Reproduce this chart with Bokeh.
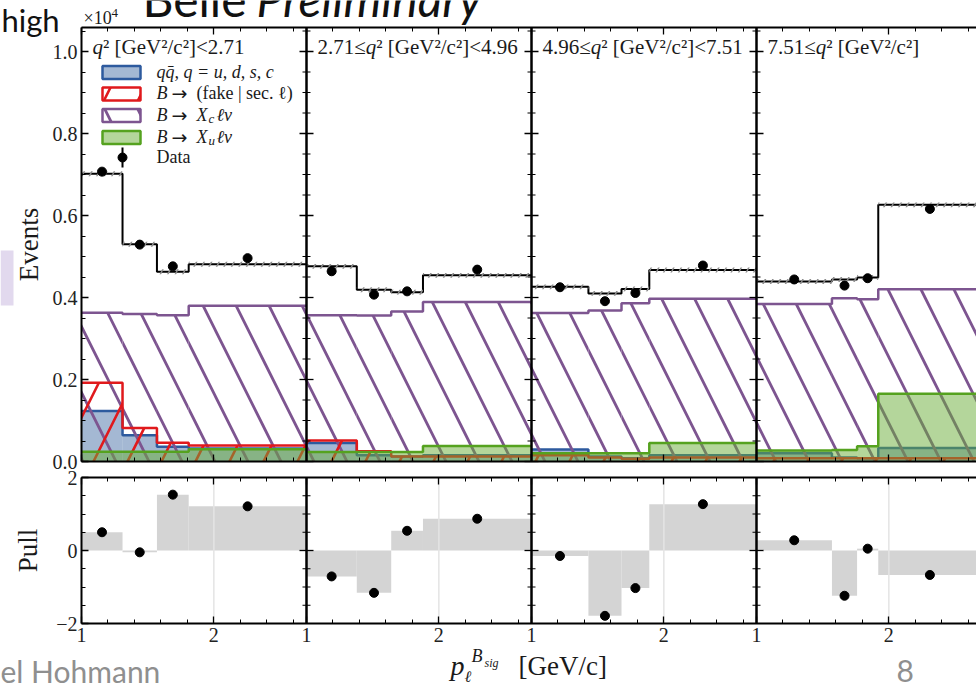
import numpy as np
from bokeh.plotting import figure
from bokeh.models import Range1d, LinearAxis, FixedTicker, PrintfTickFormatter, Label
from bokeh.embed import file_html
from bokeh.resources import INLINE

# q^2 bin boundaries [GeV^2/c^2], one panel per q^2 bin
q2_edges = [2.71, 4.96, 7.51]

# lepton momentum binning inside each q^2 bin [GeV/c]
p_edges = [
    [1.00, 1.31, 1.57, 1.81, 2.70],
    [1.00, 1.38, 1.64, 1.88, 2.70],
    [1.00, 1.43, 1.68, 1.89, 2.70],
    [1.00, 1.57, 1.76, 1.92, 2.70],
]

# fitted template yields per bin [x 10^4 events]
yield_xc = [
    [0.363, 0.360, 0.357, 0.380],
    [0.357, 0.356, 0.366, 0.389],
    [0.362, 0.368, 0.386, 0.397],
    [0.384, 0.398, 0.396, 0.420],
]
yield_fake = [
    [0.192, 0.082, 0.046, 0.039],
    [0.051, 0.025, 0.012, 0.012],
    [0.015, 0.010, 0.007, 0.010],
    [0.008, 0.008, 0.008, 0.008],
]
yield_qq = [
    [0.123, 0.064, 0.036, 0.032],
    [0.045, 0.015, 0.012, 0.015],
    [0.029, 0.012, 0.008, 0.015],
    [0.020, 0.010, 0.008, 0.033],
]
yield_xu = [
    [0.024, 0.024, 0.024, 0.030],
    [0.023, 0.023, 0.023, 0.038],
    [0.020, 0.020, 0.020, 0.045],
    [0.027, 0.028, 0.037, 0.165],
]

# observed events per bin [x 10^4]
data_yield = [
    [0.707, 0.529, 0.476, 0.496],
    [0.464, 0.407, 0.415, 0.468],
    [0.425, 0.391, 0.411, 0.478],
    [0.444, 0.429, 0.447, 0.616],
]

# (data - fit) / sigma per bin
pull = [
    [0.50, -0.05, 1.53, 1.21],
    [-0.71, -1.16, 0.54, 0.87],
    [-0.15, -1.79, -1.03, 1.27],
    [0.28, -1.24, 0.05, -0.67],
]

# ---------------------------------------------------------------- geometry
SERIF = "Liberation Serif"
SANS = "Lato"
W, H = 976, 686
PANEL_SPAN = 1.7                      # each panel shows p in [1.0, 2.7]
X_SCALE = 225 / PANEL_SPAN            # px per GeV/c
UP_BOT, UP_SCALE = 461, 410.0         # upper row: y=0 line, px per 10^4
LO_MID, LO_SCALE = 550, 36.5          # pull row: y=0 line, px per unit
UP_YMAX = (UP_BOT - 27) / UP_SCALE
X_END = 1 + (W - 81) / X_SCALE

C_XC = "#7d5590"
C_FAKE = "#e0191c"
C_QQ_EDGE, C_QQ_FILL = "#2d5a9e", "#4a71a8"
C_XU_EDGE, C_XU_FILL = "#55a21f", "#6aae38"
INK = "#1a1a1a"


def dx(px):
    return 1 + (px - 81) / X_SCALE


def uy(py):
    return (UP_BOT - py) / UP_SCALE


def ly(py):
    return (LO_MID - py) / LO_SCALE


ROMAN = {' ': 250, '(': 333, ')': 333, '[': 333, ']': 333, '.': 250, ',': 250,
         '/': 278, '|': 200, '<': 564, '=': 564, '²': 300, '≤': 549,
         '×': 564, 'G': 722, 'V': 722, 'a': 444, 'c': 444, 'e': 444, 'f': 333,
         'k': 500, 's': 389, 't': 278, 'i': 278, 'l': 278, 'ℓ': 417}
ITALIC = {' ': 250, ',': 250, '=': 675, 'q': 500, '\u0304': 0}


def text_width(s, size, italic):
    table = ITALIC if italic else ROMAN
    return sum(table.get(ch, 500) for ch in s) * size / 1000.0


p = figure(width=W, height=H, x_range=Range1d(dx(0), dx(W)),
           y_range=Range1d(uy(H), uy(0)), x_axis_type=None, y_axis_type=None,
           output_backend="svg", toolbar_location=None,
           min_border_left=0, min_border_right=0, min_border_top=0,
           min_border_bottom=0)
p.extra_y_ranges = {"pull": Range1d(ly(H), ly(0))}
p.outline_line_color = None
p.background_fill_color = "white"
p.border_fill_color = "white"


def label(text, px, py, size, italic=False, font=SERIF, color=INK):
    """Text placed by its left edge and vertical middle, in page pixels."""
    p.add_layout(Label(x=dx(px), y=uy(py), text=text, text_font=font,
                       text_font_size=f"{size}px",
                       text_font_style="italic" if italic else "normal",
                       text_color=color, text_align="left",
                       text_baseline="middle"))


def label_run(segments, px, py, font=SERIF, color=INK):
    x = px
    for text, size, italic in segments:
        label(text, x, py, size, italic, font, color)
        x += text_width(text, size, italic)


def axis(side, major, minor, loc, bounds, labels=True, overrides=None,
         y_range_name="default"):
    ax = LinearAxis(fixed_location=loc, bounds=bounds, y_range_name=y_range_name)
    ax.ticker = FixedTicker(ticks=major, minor_ticks=minor)
    ax.axis_line_width = 2
    ax.axis_line_color = "black"
    ax.major_tick_in, ax.major_tick_out = 7, 0
    ax.minor_tick_in, ax.minor_tick_out = 4, 0
    ax.major_tick_line_width = 1.3
    ax.minor_tick_line_width = 1
    ax.major_tick_line_color = "black"
    ax.minor_tick_line_color = "black"
    ax.major_label_text_font = SERIF
    ax.major_label_text_font_size = "20px"
    ax.major_label_standoff = 4
    ax.major_label_text_color = "#222222" if labels else None
    if overrides:
        ax.major_label_overrides = overrides
    p.add_layout(ax, side)
    return ax


# x ticks repeated in every panel, labelled with the momentum value
x_major, x_minor, x_over = [], [], {}
for k in range(4):
    off = k * PANEL_SPAN
    for v in (1.0, 2.0):
        t = round(v + off, 6)
        x_major.append(t)
        x_over[t] = f"{v:.0f}"
    for v in (1.2, 1.4, 1.6, 1.8, 2.2, 2.4, 2.6):
        t = round(v + off, 6)
        if t < X_END:
            x_minor.append(t)
separators = [round(1 + k * PANEL_SPAN, 6) for k in (1, 2, 3)]
pull_grid = [round(2 + k * PANEL_SPAN, 6) for k in range(4)]

up_major = [round(0.2 * i, 6) for i in range(6)]
up_minor = [round(0.05 * i, 6) for i in range(22) if i % 4]
lo_major = [-2.0, 0.0, 2.0]
lo_minor = [-1.5, -1.0, -0.5, 0.5, 1.0, 1.5]

# ---------------------------------------------------------------- axes
axis("below", x_major, x_minor, 0.0, (1, X_END), labels=False)
axis("above", x_major, x_minor, UP_YMAX, (1, X_END), labels=False)
ay = axis("left", up_major, up_minor, 1.0, (0, UP_YMAX))
ay.formatter = PrintfTickFormatter(format="%.1f")
ay.axis_label = "Events"

axis("below", x_major, x_minor, -2.0, (1, X_END), overrides=x_over,
     y_range_name="pull")
axis("above", x_major, x_minor, 2.0, (1, X_END), labels=False,
     y_range_name="pull")
ap = axis("left", lo_major, lo_minor, 1.0, (-2, 2),
          overrides={-2.0: "−2", 0.0: "0", 2.0: "2"}, y_range_name="pull")
ap.axis_label = "Pull"

for ax, standoff in ((ay, 6), (ap, 10)):
    ax.axis_label_text_font = SERIF
    ax.axis_label_text_font_size = "27px"
    ax.axis_label_text_font_style = "normal"
    ax.axis_label_text_color = INK
    ax.axis_label_standoff = standoff

# ---------------------------------------------------------------- histograms
for k in range(4):
    off = k * PANEL_SPAN
    e = np.array(p_edges[k]) + off
    left, right = e[:-1], e[1:]
    centers = 0.5 * (left + right)
    xc = np.array(yield_xc[k])
    fk = np.array(yield_fake[k])
    qq = np.array(yield_qq[k])
    xu = np.array(yield_xu[k])
    total = xc + fk + qq + xu

    p.quad(left=left, right=right, bottom=0, top=qq,
           fill_color=C_QQ_FILL, fill_alpha=0.5, line_color=None)
    p.step(x=e, y=np.append(qq, qq[-1]), mode="after",
           line_color=C_QQ_EDGE, line_width=2.5)
    p.quad(left=left, right=right, bottom=0, top=xc, fill_color=None,
           line_color=None, hatch_pattern="\\", hatch_color=C_XC,
           hatch_scale=66, hatch_weight=2.8)
    p.step(x=e, y=np.append(xc, xc[-1]), mode="after",
           line_color=C_XC, line_width=2.5)
    p.quad(left=left, right=right, bottom=0, top=fk, fill_color=None,
           line_color=None, hatch_pattern="/", hatch_color=C_FAKE,
           hatch_scale=68, hatch_weight=2.6)
    p.step(x=e, y=np.append(fk, fk[-1]), mode="after",
           line_color=C_FAKE, line_width=2.5)
    p.quad(left=left, right=right, bottom=0, top=xu,
           fill_color=C_XU_FILL, fill_alpha=0.5, line_color=None)
    p.step(x=e, y=np.append(xu, xu[-1]), mode="after",
           line_color=C_XU_EDGE, line_width=2.5)

    # total fit with its uncertainty band
    p.step(x=e, y=np.append(total, total[-1]), mode="after",
           line_color="black", line_width=2)
    p.quad(left=left, right=right, bottom=total - 0.006, top=total + 0.006,
           fill_color=None, line_color=None, hatch_pattern="/",
           hatch_color="#8c8c8c", hatch_scale=15, hatch_weight=1.5)

    # data with Poisson errors
    d = np.array(data_yield[k])
    err = np.sqrt(d * 1e4) / 1e4
    p.segment(x0=centers, y0=d - err, x1=centers, y1=d + err,
              line_color="black", line_width=1.5)
    p.scatter(x=centers, y=d, size=9, color="black")

    # pulls
    pv = np.array(pull[k])
    p.quad(left=left, right=right, bottom=0, top=pv, fill_color="#d4d4d4",
           line_color=None, y_range_name="pull")

# light vertical guide at p = 2 GeV/c in the pull row
p.segment(x0=pull_grid, y0=-2, x1=pull_grid, y1=2, line_color="#e4e4e4",
          line_width=1.5, y_range_name="pull")

for k in range(4):
    e = np.array(p_edges[k]) + k * PANEL_SPAN
    centers = 0.5 * (e[:-1] + e[1:])
    p.scatter(x=centers, y=pull[k], size=9, color="black", y_range_name="pull")

# panel separators with ticks on both sides
for s in separators:
    p.segment(x0=[s], y0=[0], x1=[s], y1=[UP_YMAX], line_color="black",
              line_width=2.5)
    p.scatter(x=[s] * len(up_major), y=up_major, marker="dash", size=14,
              line_color="black", line_width=1.3)
    p.scatter(x=[s] * len(up_minor), y=up_minor, marker="dash", size=8,
              line_color="black", line_width=1)
    p.segment(x0=[s], y0=[-2], x1=[s], y1=[2], line_color="black",
              line_width=2.5, y_range_name="pull")
    p.scatter(x=[s], y=[0.0], marker="dash", size=14, line_color="black",
              line_width=1.3, y_range_name="pull")
    p.scatter(x=[s] * len(lo_minor), y=lo_minor, marker="dash", size=8,
              line_color="black", line_width=1, y_range_name="pull")

# ---------------------------------------------------------------- texts
# panel titles
for k in range(4):
    segs = []
    if k > 0:
        segs.append((f"{q2_edges[k - 1]:.2f}≤", 21, False))
    segs.append(("q", 21, True))
    segs.append(("² [GeV²/c²]" + (f"<{q2_edges[k]:.2f}" if k < 3 else ""), 21, False))
    label_run(segs, 81 + 225 * k + 11, 46)

# legend
rows = [72, 93.5, 115, 137, 157]
p.quad(left=dx(102), right=dx(140), bottom=uy(rows[0] + 6.5), top=uy(rows[0] - 6.5),
       fill_color=C_QQ_FILL, fill_alpha=0.5, line_color=C_QQ_EDGE, line_width=2.5)
p.quad(left=dx(102), right=dx(140), bottom=uy(rows[1] + 6.5), top=uy(rows[1] - 6.5),
       fill_color="white", line_color=C_FAKE, line_width=2.5, hatch_pattern="/",
       hatch_color=C_FAKE, hatch_scale=68, hatch_weight=2.6)
p.quad(left=dx(102), right=dx(140), bottom=uy(rows[2] + 6.5), top=uy(rows[2] - 6.5),
       fill_color="white", line_color=C_XC, line_width=2.5, hatch_pattern="\\",
       hatch_color=C_XC, hatch_scale=66, hatch_weight=2.8)
p.quad(left=dx(102), right=dx(140), bottom=uy(rows[3] + 6.5), top=uy(rows[3] - 6.5),
       fill_color=C_XU_FILL, fill_alpha=0.5, line_color=C_XU_EDGE, line_width=2.5)
p.segment(x0=[dx(122)], y0=[uy(rows[4] + 10)], x1=[dx(122)], y1=[uy(rows[4] - 10)],
          line_color="black", line_width=2)
p.scatter(x=[dx(122)], y=[uy(rows[4])], size=9, color="black")

label("qq\u0304, q = u, d, s, c", 156, rows[0] - 1, 18, italic=True)
for r, tail in ((1, None), (2, "c"), (3, "u")):
    y = rows[r] - 1
    label("B", 156, y, 18, italic=True)
    label("→", 171, y, 19, font="DejaVu Sans")
    if tail is None:
        label("(fake | sec. ℓ)", 196, y, 18)
    else:
        label("X", 196, y, 18, italic=True)
        label(tail, 208, y + 4, 13, italic=True)
        label("ℓν", 216, y, 18, italic=True)
label("Data", 156, rows[4] - 1, 18)

# axis multiplier
label("×10", 83, 17, 18)
label("4", 111, 12, 13)

# x axis title
label("p", 450, 665, 28, italic=True)
label("ℓ", 464, 676, 16, italic=True)
label("B", 471, 655, 18, italic=True)
label("sig", 484, 662, 12, italic=True)
label("[GeV/c]", 518, 665, 27)

# slide frame around the chart
label("high", 1, 19, 31, font=SANS, color="#111111")
label("Belle", 142, -2, 48, font=SANS, color="#111111")
label("Preliminary", 256, -2, 48, italic=True, font=SANS, color="#111111")
label("el Hohmann", 0, 670, 30, font=SANS, color="#8f8f8f")
label("8", 896, 670, 30, font=SANS, color="#8f8f8f")
p.quad(left=dx(0), right=dx(13), top=uy(250), bottom=uy(305),
       fill_color="#e2d9ee", line_color=None)

open("out.html", "w").write(file_html(p, INLINE))
